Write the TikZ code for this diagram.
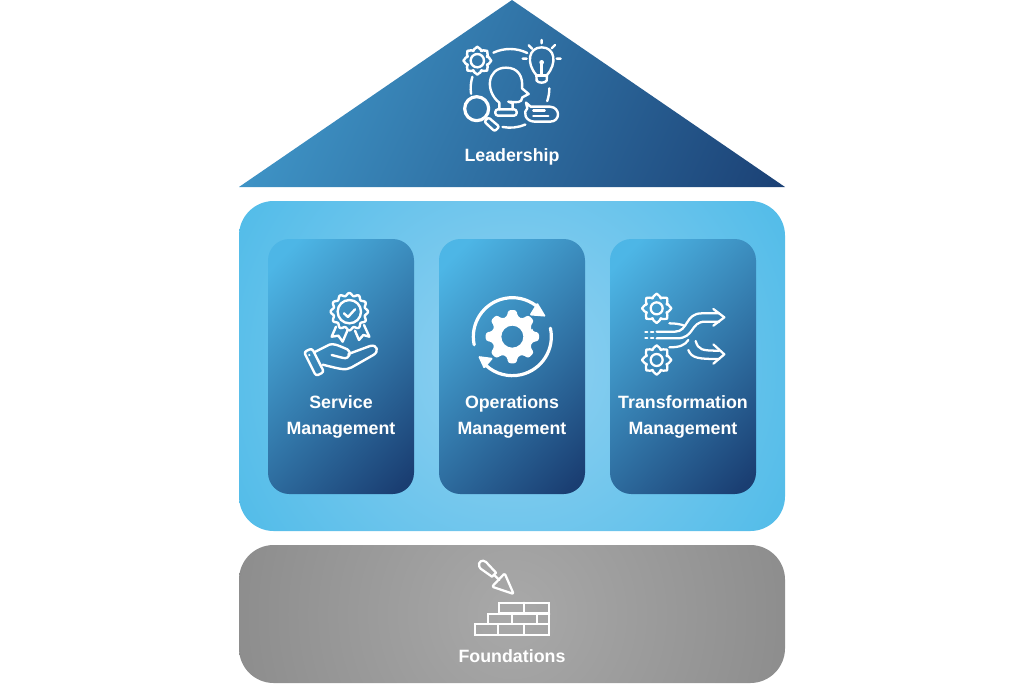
\documentclass[tikz,border=0pt]{standalone}
\usepackage{fontspec}
\setmainfont{Liberation Sans}
\newcommand{\gearpath}[5]{%
  ({#1+#4*cos(-0.33*360/#5)},{#2+#4*sin(-0.33*360/#5)})
  \foreach \gi [evaluate=\gi as \ga using 360*\gi/#5, evaluate=\gi as \gd using 360/#5] in {1,...,#5} {
    -- ({#1+#3*cos(\ga-360/#5-0.2*\gd)},{#2+#3*sin(\ga-360/#5-0.2*\gd)})
    -- ({#1+#3*cos(\ga-360/#5+0.2*\gd)},{#2+#3*sin(\ga-360/#5+0.2*\gd)})
    -- ({#1+#4*cos(\ga-360/#5+0.33*\gd)},{#2+#4*sin(\ga-360/#5+0.33*\gd)})
    -- ({#1+#4*cos(\ga-0.33*\gd)},{#2+#4*sin(\ga-0.33*\gd)})
  } -- cycle}
\definecolor{cardlight}{HTML}{4DB6E6}
\definecolor{carddark}{HTML}{1A3E72}
\definecolor{rooflight}{HTML}{45A3D5}
\definecolor{panelin}{HTML}{92D1F1}
\definecolor{panelout}{HTML}{4CBAE8}
\definecolor{grayin}{HTML}{A9A9A9}
\definecolor{grayout}{HTML}{858585}
\pgfdeclareverticalshading{cardshade}{100bp}{color(0bp)=(carddark); color(18bp)=(carddark); color(80bp)=(cardlight); color(100bp)=(cardlight)}
\pgfdeclareverticalshading{roofshade}{100bp}{color(0bp)=(carddark); color(15bp)=(carddark); color(85bp)=(rooflight); color(100bp)=(rooflight)}
\pgfdeclareradialshading{panelshade}{\pgfpoint{0bp}{0bp}}{color(0bp)=(panelin); color(27bp)=(panelout); color(50bp)=(panelout)}
\pgfdeclareradialshading{grayshade}{\pgfpoint{0bp}{0bp}}{color(0bp)=(grayin); color(28bp)=(grayout); color(50bp)=(grayout)}
\tikzset{
  x=0.75pt,y=-0.75pt,
  label text/.style={text=white,font=\fontsize{13.35}{19.5}\selectfont\bfseries,align=center,inner sep=0pt},
  card/.style={rounded corners=16pt,minimum width=109.5pt,minimum height=191.25pt,inner sep=0pt,
    shade,shading=cardshade,shading angle=46},
  wide box/.style={rounded corners=26pt,minimum width=409.5pt,inner sep=0pt},
  icon/.style={draw=white,line width=1.8pt,line cap=round,line join=round,fill=none},
  thin icon/.style={icon,line width=1.7pt},
}
\begin{document}
\begin{tikzpicture}
\useasboundingbox (0,0) rectangle (1024,683);
% roof
\shade[shading=roofshade,shading angle=65] (512,0) -- (785,187) -- (239,187) -- cycle;
% panel
\node[wide box,minimum height=247.5pt,
  path picture={\shade[shading=panelshade] (0,0) circle (320);}] (panel) at (512,366) {};
% foundation
\node[wide box,minimum height=103.5pt,
  path picture={\shade[shading=grayshade] (0,0) circle (320);}] (found) at (512,614) {};
% cards
\node[card] (c1) at (341,366.5) {};
\node[card] (c2) at (512,366.5) {};
\node[card] (c3) at (683,366.5) {};
% labels
\node[label text] (tl) at (512,156.5) {Leadership};
\node[label text] (t1) at (341,417) {Service\\Management};
\node[label text] (t2) at (512,417) {Operations\\Management};
\node[label text] (t3) at (683,417) {Transformation\\Management};
\node[label text] (tf) at (512,656.5) {Foundations};

% Leadership icon
\begin{scope}[shift={(440,20)},scale=1/3]
  \draw[icon,rounded corners=1.5pt] \gearpath{112}{122}{42}{32}{8};
  \draw[icon] (112,122) circle (20);
  \draw[icon] (210,205) ++(245:118) arc (245:296:118);
  \draw[icon] (210,205) ++(172:118) arc (172:197:118);
  \draw[icon] (210,205) ++(67:118) arc (67:101:118);
  \draw[icon] (210,205) ++(0:118) arc (0:19:118);
  % bulb
  \draw[icon] (289,165) .. controls (258,130) and (265,82) .. (305,82) .. controls (345,82) and (352,130) .. (321,165) -- (320,182) .. controls (315,190) and (295,190) .. (290,182) -- cycle;
  \draw[icon] (305,163) -- (305,132);
  \fill[white] (305,127) circle (7);
  \draw[icon] (290,166) -- (320,166);
  \draw[icon] (305,60) -- (305,70) (266,76) -- (276,86) (345,75) -- (335,85) (248,116) -- (260,116) (350,116) -- (362,116);
  % head
  \draw[icon] (178,268) -- (178,248) .. controls (135,215) and (140,143) .. (198,143) .. controls (235,143) and (250,170) .. (246,205) -- (266,222) -- (247,232) .. controls (245,250) and (232,247) .. (205,245) -- (218,250) -- (218,268);
  \draw[icon,rounded corners=2pt] (166,268) rectangle (230,287);
  % magnifier
  \draw[icon,line width=2.4pt] (110,266) circle (36);
  \draw[icon,rounded corners=1.5pt] (145,292) -- (178,320) -- (164,334) -- (133,305) -- cycle;
  % bubble
  \draw[icon] (272,260) -- (330,260) .. controls (362,262) and (362,305) .. (330,305) -- (285,305) .. controls (255,305) and (248,275) .. (262,265) -- (258,248) -- cycle;
  \draw[icon] (280,272) -- (314,272) (280,288) -- (325,288);
\end{scope}

% Service icon
\begin{scope}[shift={(290,280)},scale=1/3]
  \draw[icon] plot[domain=0:360,samples=145] ({178+(52+4*cos(12*\x))*cos(\x)},{95+(52+4*cos(12*\x))*sin(\x)}) -- cycle;
  \draw[icon] (178,95) circle (35);
  \draw[icon] (162,100) -- (174,111) -- (195,88);
  \draw[icon] (138,140) -- (125,170) -- (145,167) -- (158,185) -- (172,152);
  \draw[icon] (195,152) -- (207,180) -- (220,165) -- (238,170) -- (222,135);
  \draw[icon,rounded corners=2pt] (42,216) -- (66,205) -- (102,276) -- (78,288) -- cycle;
  \fill[white] (58,225) circle (3.5);
  \draw[icon] (72,217) -- (118,194) .. controls (130,190) and (140,194) .. (172,208) .. controls (185,214) and (180,238) .. (160,234) -- (125,225);
  \draw[icon] (175,222) -- (240,198) .. controls (262,192) and (268,215) .. (250,225) -- (185,262) .. controls (165,272) and (155,268) .. (98,254);
\end{scope}

% Operations icon
\begin{scope}[shift={(460,285)},scale=1/3]
  \fill[white,even odd rule,rounded corners=2pt] \gearpath{157}{155}{81}{62}{8} (157,155) circle (33);
  \draw[icon,line width=2.4pt] (157,155) ++(168:117) arc (168:307:117);
  \draw[icon,line width=2.4pt] (157,155) ++(-12.6:117) arc (-12.6:132:117);
  \fill[white,rounded corners=1pt] (232,52) -- (258,95) -- (208,91) -- cycle;
  \fill[white,rounded corners=1pt] (54,213) -- (100,219) -- (72,252) -- cycle;
\end{scope}

% Transformation icon
\begin{scope}[shift={(630,285)},scale=1/3]
  \draw[thin icon,rounded corners=1.5pt] \gearpath{80}{70}{44}{33}{8};
  \draw[thin icon] (80,70) circle (18);
  \draw[thin icon,rounded corners=1.5pt] \gearpath{80}{225}{44}{33}{8};
  \draw[thin icon] (80,225) circle (18);
  \draw[thin icon] (46,140) -- (52,140) (63,140) -- (70,140) (46,160) -- (52,160) (63,160) -- (70,160);
  \draw[thin icon] (118,115) .. controls (135,115) and (150,117) .. (163,122);
  \draw[thin icon] (80,140) -- (135,140) .. controls (175,140) and (165,85) .. (215,85) -- (268,85);
  \draw[thin icon] (80,160) -- (140,160) .. controls (195,160) and (180,110) .. (225,110) -- (268,110);
  \draw[thin icon] (118,187) .. controls (150,187) and (165,180) .. (175,165);
  \draw[thin icon] (175,195) .. controls (185,220) and (205,222) .. (268,222);
  \draw[thin icon] (197,168) .. controls (205,195) and (215,197) .. (268,197);
  \draw[thin icon] (250,72) -- (283,97) -- (250,122);
  \draw[thin icon] (250,178) -- (283,208) -- (250,236);
\end{scope}

% Foundations icon
\begin{scope}[shift={(460,550)},scale=1/3]
  \draw[thin icon] (58,50) .. controls (52,36) and (68,26) .. (78,36) -- (108,68) -- (96,80) -- (62,56) -- cycle;
  \draw[thin icon,rounded corners=1pt] (134,70) -- (161,132) -- (96,110) -- cycle;
  \draw[thin icon] (118,90) -- (104,76);
  \draw[thin icon,line join=miter] (118,188) -- (118,158) -- (268,158) -- (268,254) -- (45,254) -- (45,222) -- (265,222);
  \draw[thin icon,line join=miter] (83,222) -- (83,192) -- (268,192);
  \draw[thin icon] (118,188) -- (265,188);
  \draw[thin icon] (192,158) -- (192,188) (155,192) -- (155,222) (230,192) -- (230,222) (115,222) -- (115,254) (192,222) -- (192,254);
\end{scope}
\end{tikzpicture}
\end{document}
